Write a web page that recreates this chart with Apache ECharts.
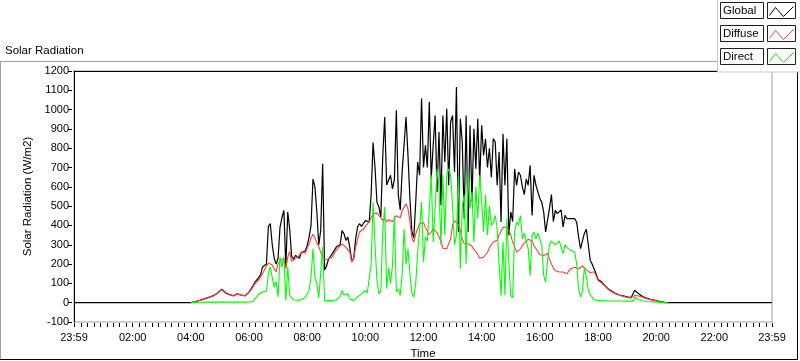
<!DOCTYPE html>
<html>
<head>
<meta charset="utf-8">
<script src="https://cdn.jsdelivr.net/npm/echarts@6/dist/echarts.min.js"></script>
<style>
html,body{margin:0;padding:0;background:#fff;}
#chart{width:800px;height:361px;}
</style>
</head>
<body>
<div id="chart"></div>
<script>
// ---------------- data ----------------
const CHART_TITLE = 'Solar Radiation';
const Y_NAME = 'Solar Radiation (W/m2)';
const X_NAME = 'Time';
const SERIES_NAMES = ['Global', 'Diffuse', 'Direct'];

// time axis in minutes after midnight; 23:59 of previous day = -1
const DAY_START = -1;
const DAY_END = 1439;
const X_LABEL_VALUES = [-1, 120, 240, 360, 480, 600, 720, 840, 960, 1080, 1200, 1320, 1439];
const X_LABELS = ['23:59', '02:00', '04:00', '06:00', '08:00', '10:00', '12:00', '14:00', '16:00', '18:00', '20:00', '22:00', '23:59'];
const Y_MIN = -100, Y_MAX = 1200, Y_STEP = 100;

// samples every 4 minutes from 04:00
const SAMPLE_START = 240;
const SAMPLE_STEP = 4;

const GLOBAL = [
  0, 2, 4, 7, 10, 13, 17, 20, 24, 28,
  30, 34, 38, 44, 52, 62, 70, 60, 50, 45,
  42, 38, 36, 42, 46, 45, 40, 34, 36, 42,
  55, 70, 86, 105, 112, 130, 145, 185, 190, 200,
  395, 410, 300, 230, 200, 230, 390, 440, 478, 184,
  470, 380, 240, 226, 245, 254, 230, 260, 270, 268,
  295, 340, 400, 640, 600, 470, 300, 374, 720, 170,
  190, 225, 230, 254, 271, 288, 295, 300, 374, 357,
  323, 340, 285, 215, 228, 330, 392, 409, 395, 410,
  425, 432, 418, 560, 830, 700, 520, 495, 443, 760,
  962, 610, 600, 660, 590, 640, 997, 560, 480, 680,
  820, 962, 763, 540, 370, 335, 520, 729, 660, 1057,
  700, 815, 700, 1040, 640, 815, 970, 573, 884, 505,
  970, 729, 1005, 608, 936, 970, 677, 1117, 366, 953,
  832, 435, 970, 366, 919, 522, 901, 694, 953, 625,
  919, 763, 849, 700, 800, 650, 850, 832, 608, 780,
  418, 875, 608, 849, 349, 470, 420, 694, 608, 676,
  660, 600, 560, 640, 608, 711, 452, 660, 608, 610,
  540, 521, 469, 366, 370, 490, 560, 420, 478, 461,
  470, 480, 392, 452, 435, 440, 435, 445, 435, 417,
  340, 280, 271, 360, 380, 300, 219, 200, 175, 150,
  120, 110, 107, 95, 85, 74, 65, 60, 55, 48,
  42, 40, 38, 35, 32, 30, 28, 26, 30, 64,
  55, 46, 36, 32, 27, 24, 21, 18, 15, 13,
  11, 8, 6, 4, 2, 0, 0
];

const DIFFUSE = [
  0, 2, 4, 7, 10, 12, 16, 19, 23, 27,
  29, 33, 37, 43, 51, 60, 68, 58, 48, 44,
  41, 37, 35, 41, 45, 44, 39, 33, 35, 41,
  53, 66, 80, 98, 105, 118, 135, 150, 170, 190,
  205, 210, 195, 175, 160, 200, 219, 222, 228, 176,
  236, 265, 215, 220, 228, 236, 245, 262, 268, 256,
  280, 306, 335, 355, 335, 310, 290, 262, 236, 222,
  219, 226, 232, 236, 255, 272, 282, 294, 305, 296,
  288, 280, 262, 210, 230, 285, 330, 366, 370, 380,
  395, 405, 418, 440, 461, 470, 465, 452, 440, 426,
  440, 418, 430, 432, 420, 435, 450, 440, 440, 475,
  495, 513, 487, 420, 335, 314, 355, 385, 409, 414,
  415, 390, 370, 352, 365, 383, 375, 362, 352, 320,
  282, 280, 280, 290, 330, 400, 425, 435, 405, 375,
  330, 305, 298, 305, 312, 292, 276, 265, 250, 230,
  238, 236, 242, 260, 285, 300, 314, 318, 323, 350,
  360, 390, 398, 392, 375, 350, 314, 290, 262, 270,
  279, 295, 310, 320, 328, 331, 320, 295, 285, 265,
  248, 245, 245, 250, 255, 225, 200, 178, 165, 159,
  159, 159, 159, 155, 150, 165, 176, 180, 184, 178,
  176, 180, 190, 180, 170, 160, 155, 162, 160, 141,
  115, 105, 102, 92, 82, 71, 62, 57, 52, 46,
  40, 38, 36, 33, 30, 28, 26, 24, 27, 38,
  38, 35, 30, 28, 24, 21, 19, 16, 14, 12,
  10, 7, 5, 3, 2, 0, 0
];

const DIRECT = [
  0, 0, 1, 1, 2, 2, 2, 2, 3, 3,
  3, 3, 3, 3, 3, 4, 4, 3, 3, 3,
  3, 3, 3, 3, 3, 3, 3, 3, 3, 3,
  4, 5, 6, 18, 30, 45, 52, 55, 50, 60,
  150, 185, 130, 81, 110, 30, 236, 184, 236, 12,
  184, 40, 25, 14, 12, 13, 14, 16, 20, 25,
  45, 63, 133, 280, 130, 100, 25, 20, 288, 10,
  9, 12, 14, 10, 20, 15, 12, 30, 63, 40,
  30, 46, 20, 20, 12, 18, 30, 38, 46, 55,
  63, 50, 46, 201, 521, 300, 115, 46, 63, 374,
  495, 72, 180, 100, 190, 452, 55, 72, 38, 150,
  380, 200, 279, 150, 50, 29, 100, 260, 383, 521,
  210, 340, 320, 487, 660, 314, 487, 694, 600, 300,
  660, 349, 660, 694, 660, 500, 300, 349, 660, 176,
  500, 560, 200, 677, 487, 573, 314, 600, 435, 660,
  521, 366, 560, 349, 500, 400, 418, 452, 383, 200,
  38, 314, 38, 435, 211, 38, 25, 366, 418, 400,
  452, 330, 360, 320, 280, 141, 349, 366, 331, 360,
  331, 297, 141, 107, 220, 300, 320, 314, 300, 305,
  320, 314, 254, 300, 285, 278, 271, 265, 262, 202,
  72, 30, 60, 184, 133, 64, 40, 29, 15, 12,
  12, 11, 10, 10, 10, 10, 9, 9, 9, 9,
  9, 9, 9, 9, 8, 8, 8, 8, 8, 28,
  22, 17, 12, 9, 7, 6, 5, 5, 4, 4,
  3, 2, 2, 1, 1, 0, 0
];

const COLORS = ['#000000', '#ff3c3c', '#00ff00'];

// ---------------- build ----------------
if (GLOBAL.length !== DIFFUSE.length || GLOBAL.length !== DIRECT.length) {
  throw new Error('length mismatch ' + GLOBAL.length + ' ' + DIFFUSE.length + ' ' + DIRECT.length);
}
const sampleTimes = GLOBAL.map((_, i) => SAMPLE_START + i * SAMPLE_STEP);
function pairs(vals) { return vals.map((v, i) => [sampleTimes[i], v]); }
const globalData = [[DAY_START, 0]].concat(pairs(GLOBAL), [[DAY_END, 0]]);
const diffuseData = pairs(DIFFUSE);
const directData = pairs(DIRECT);

// minor ticks: 9 per 2-hour division
const tickValues = [DAY_START];
for (let k = 0; k * 40 / 3 < DAY_END - 1; k++) tickValues.push(k * 40 / 3);
tickValues.push(DAY_END);

const FONT = 'Liberation Sans';
const chart = echarts.init(document.getElementById('chart'), null, {renderer: 'canvas'});

const legendGraphics = [];
const LEG_TOPS = [2.5, 25.5, 48.5];
legendGraphics.push({type: 'rect', z: 100, shape: {x: 717.5, y: -2, width: 90, height: 74}, style: {fill: '#ffffff', stroke: '#c8c8c8', lineWidth: 1}});
SERIES_NAMES.forEach((name, r) => {
  const t = LEG_TOPS[r];
  legendGraphics.push({type: 'rect', z: 101, shape: {x: 720.5, y: t, width: 43, height: 16}, style: {fill: '#ffffff', stroke: '#202020', lineWidth: 1}});
  legendGraphics.push({type: 'text', z: 102, x: 723, y: t + 8.5, style: {text: name, font: '11.5px "' + FONT + '"', fill: '#000', verticalAlign: 'middle', align: 'left'}});
  legendGraphics.push({type: 'rect', z: 101, shape: {x: 767.5, y: t, width: 28, height: 16}, style: {fill: '#ffffff', stroke: '#202020', lineWidth: 1}});
  legendGraphics.push({type: 'polyline', z: 102, shape: {points: [[769.5, t + 13], [775.5, t + 5], [783.5, t + 14], [793.5, t + 4]]}, style: {stroke: COLORS[r], lineWidth: 1, fill: null}});
});

const frame = [
  {type: 'line', z: 99, shape: {x1: 0, y1: 61.5, x2: 718, y2: 61.5}, style: {stroke: '#a0a0a0', lineWidth: 1}},
  {type: 'line', z: 99, shape: {x1: 0.5, y1: 61.5, x2: 0.5, y2: 360}, style: {stroke: '#a0a0a0', lineWidth: 1}},
  {type: 'line', z: 99, shape: {x1: 0, y1: 359.5, x2: 798, y2: 359.5}, style: {stroke: '#000', lineWidth: 1}},
  {type: 'line', z: 99, shape: {x1: 797.5, y1: 72, x2: 797.5, y2: 360}, style: {stroke: '#000', lineWidth: 1}}
];

const option = {
  animation: false,
  backgroundColor: '#ffffff',
  textStyle: {fontFamily: FONT},
  title: {
    text: CHART_TITLE, left: 5, top: 45, padding: 0,
    textStyle: {fontSize: 11.5, fontWeight: 'normal', color: '#000', fontFamily: FONT}
  },
  grid: {left: 74, top: 71, right: 28, bottom: 39, show: true, containLabel: false, outerBoundsMode: 'none', borderColor: '#a0a0a0', borderWidth: 1, backgroundColor: '#ffffff'},
  xAxis: [
    {
      type: 'value', position: 'bottom', offset: 1, min: DAY_START, max: DAY_END,
      name: X_NAME, nameLocation: 'middle', nameGap: 25,
      nameTextStyle: {fontSize: 11.5, color: '#000', fontFamily: FONT},
      axisLine: {show: false, onZero: false},
      axisTick: {show: true, length: 4, customValues: tickValues, lineStyle: {color: '#000', width: 1}},
      axisLabel: {
        customValues: X_LABEL_VALUES, margin: 9, fontSize: 11, color: '#000', fontFamily: FONT,
        formatter: v => X_LABELS[X_LABEL_VALUES.indexOf(v)]
      },
      splitLine: {show: false}
    },
    {
      type: 'value', position: 'top', min: DAY_START, max: DAY_END,
      axisLine: {show: true, onZero: false, lineStyle: {color: '#000', width: 1}},
      axisTick: {show: false}, axisLabel: {show: false}, splitLine: {show: false}
    }
  ],
  yAxis: [
    {
      type: 'value', position: 'left', min: Y_MIN, max: Y_MAX, interval: Y_STEP,
      axisLine: {show: true, onZero: false, lineStyle: {color: '#000', width: 1}},
      axisTick: {show: false}, axisLabel: {show: false}, splitLine: {show: false}
    },
    {
      type: 'value', position: 'left', offset: 2, min: Y_MIN, max: Y_MAX, interval: Y_STEP,
      name: Y_NAME, nameLocation: 'middle', nameGap: 31,
      nameTextStyle: {fontSize: 11.5, color: '#000', fontFamily: FONT},
      axisLine: {show: false, onZero: false},
      axisTick: {show: true, length: 4, lineStyle: {color: '#000', width: 1}},
      axisLabel: {margin: 3, fontSize: 11, color: '#000', fontFamily: FONT, formatter: v => String(v)},
      splitLine: {show: false}
    }
  ],
  series: [
    {name: SERIES_NAMES[0], type: 'line', data: globalData, showSymbol: false, symbol: 'none', lineStyle: {color: COLORS[0], width: 1.2}, itemStyle: {color: COLORS[0]}, z: 2},
    {name: SERIES_NAMES[1], type: 'line', data: diffuseData, showSymbol: false, symbol: 'none', lineStyle: {color: COLORS[1], width: 1.1}, itemStyle: {color: COLORS[1]}, z: 3},
    {name: SERIES_NAMES[2], type: 'line', data: directData, showSymbol: false, symbol: 'none', lineStyle: {color: COLORS[2], width: 1.1}, itemStyle: {color: COLORS[2]}, z: 4}
  ],
  graphic: frame.concat(legendGraphics)
};
chart.setOption(option);
</script>
</body>
</html>
